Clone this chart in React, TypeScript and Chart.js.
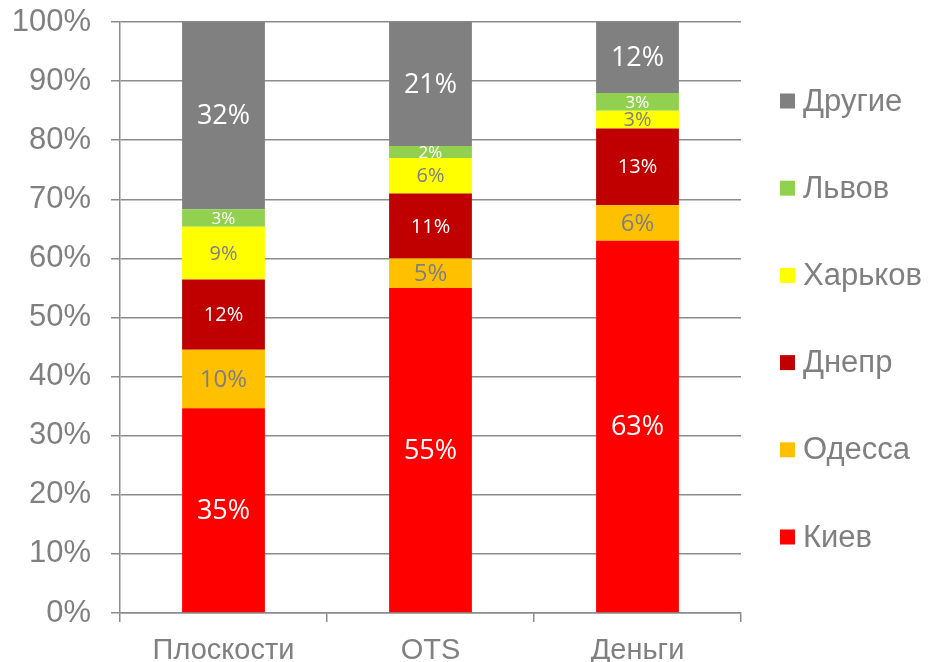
import React, { useEffect, useRef } from "react";
import { Chart, registerables } from "chart.js";

Chart.register(...registerables);

// Categories along the x axis
const categories = ["Плоскости", "OTS", "Деньги"];

// Share of each city per category, in percent (as labelled on the bars)
const kiev = [35, 55, 63];
const odessa = [10, 5, 6];
const dnepr = [12, 11, 13];
const kharkov = [9, 6, 3];
const lviv = [3, 2, 3];
const others = [32, 21, 12];

const seriesNames = ["Киев", "Одесса", "Днепр", "Харьков", "Львов", "Другие"];
const seriesValues = [kiev, odessa, dnepr, kharkov, lviv, others];
const seriesColors = ["#FF0000", "#FFC000", "#C00000", "#FFFF00", "#92D050", "#808080"];

// Value label look per series: font size and colour
const labelSizes = [27, 24, 20, 20, 17, 27];
const labelColors = ["#FFFFFF", "#7F7F7F", "#FFFFFF", "#7F7F7F", "#FFFFFF", "#FFFFFF"];

const TEXT_GRAY = "#808080";
const LINE_GRAY = "#8C8C8C";
const AXIS_FONT = '"Liberation Sans", Arial, sans-serif';
const LABEL_FONT = '"Open Sans", "Noto Sans", sans-serif';

// Column totals, used to scale each column to 100%
const totals = categories.map((_, i) =>
  seriesValues.reduce((sum, s) => sum + s[i], 0)
);

const valueLabels = {
  id: "valueLabels",
  afterDatasetsDraw(chart: any) {
    const ctx = chart.ctx;
    chart.data.datasets.forEach((_: any, di: number) => {
      const meta = chart.getDatasetMeta(di);
      meta.data.forEach((bar: any, i: number) => {
        const { x, y, base } = bar.getProps(["x", "y", "base"], true);
        ctx.save();
        ctx.font = `${labelSizes[di]}px ${LABEL_FONT}`;
        ctx.fillStyle = labelColors[di];
        ctx.textAlign = "center";
        ctx.textBaseline = "middle";
        ctx.fillText(`${seriesValues[di][i]}%`, x, (y + base) / 2 + 1);
        ctx.restore();
      });
    });
  },
};

const sideLegend = {
  id: "sideLegend",
  afterDraw(chart: any) {
    const { ctx, chartArea } = chart;
    const n = seriesNames.length;
    const mid = (chartArea.top + chartArea.bottom) / 2 + 1.5;
    const step = 87.2;
    const boxX = chartArea.right + 39;
    ctx.save();
    ctx.font = `31px ${AXIS_FONT}`;
    ctx.textAlign = "left";
    ctx.textBaseline = "middle";
    for (let k = 0; k < n; k++) {
      const di = n - 1 - k;
      const cy = mid + (k - (n - 1) / 2) * step;
      ctx.fillStyle = seriesColors[di];
      ctx.fillRect(boxX, cy - 7.5, 15, 15);
      ctx.fillStyle = TEXT_GRAY;
      ctx.fillText(seriesNames[di], boxX + 23, cy + 1);
    }
    ctx.restore();
  },
};

export default function App() {
  const canvasRef = useRef<HTMLCanvasElement | null>(null);

  useEffect(() => {
    if (!canvasRef.current) return;
    const chart = new Chart(canvasRef.current, {
      type: "bar",
      data: {
        labels: categories,
        datasets: seriesNames.map((name, di) => ({
          label: name,
          data: seriesValues[di].map((v, i) => (v / totals[i]) * 100),
          backgroundColor: seriesColors[di],
          borderWidth: 0,
          categoryPercentage: 1,
          barPercentage: 0.4,
        })),
      },
      options: {
        animation: false,
        responsive: false,
        events: [],
        layout: { padding: { left: 0, right: 187, top: 22, bottom: 0 } },
        plugins: {
          legend: { display: false },
          tooltip: { enabled: false },
        },
        scales: {
          x: {
            stacked: true,
            afterFit: (scale: any) => {
              scale.height = 49;
            },
            border: { display: true, color: LINE_GRAY, width: 1.5 },
            grid: {
              display: true,
              drawOnChartArea: false,
              drawTicks: true,
              tickLength: 9,
              offset: true,
              color: LINE_GRAY,
              lineWidth: 1.5,
            },
            ticks: {
              color: TEXT_GRAY,
              font: { family: AXIS_FONT, size: 29 },
              padding: 12,
              maxRotation: 0,
              autoSkip: false,
            },
          },
          y: {
            stacked: true,
            min: 0,
            max: 100,
            afterFit: (scale: any) => {
              scale.width = 120;
              scale.paddingTop = 0;
              scale.paddingBottom = 0;
            },
            border: { display: true, color: LINE_GRAY, width: 1.5 },
            grid: {
              color: LINE_GRAY,
              lineWidth: 1.5,
              tickLength: 9,
            },
            ticks: {
              stepSize: 10,
              color: TEXT_GRAY,
              font: { family: AXIS_FONT, size: 31 },
              padding: 20,
              callback: (v: any) => `${v}%`,
            },
          },
        },
      },
      plugins: [valueLabels, sideLegend],
    });
    return () => chart.destroy();
  }, []);

  return (
    <div style={{ position: "fixed", left: 0, top: 0, width: 928, height: 662, background: "#FFFFFF" }}>
      <canvas ref={canvasRef} width={928} height={662} style={{ display: "block" }} />
    </div>
  );
}
